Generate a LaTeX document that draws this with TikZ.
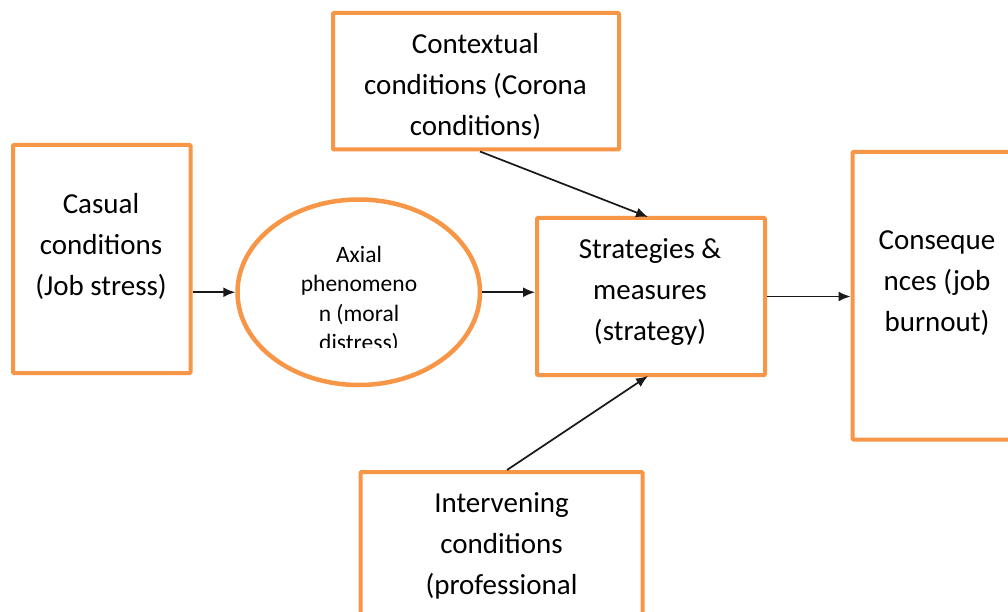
\documentclass[tikz,border=0pt]{standalone}
\usepackage{fontspec}
\setmainfont{Carlito}
\usetikzlibrary{arrows.meta,calc,shapes.geometric}
\definecolor{boxorange}{RGB}{247,150,70}
\tikzset{
  box/.style={draw=boxorange,line width=4pt,rectangle,rounded corners=1pt,inner sep=0pt,fill=white},
  oval/.style={draw=boxorange,line width=4.5pt,ellipse,inner sep=0pt},
  txt/.style={align=center,inner sep=0pt,font=\fontsize{29}{41}\selectfont},
  smalltxt/.style={align=center,inner sep=0pt,font=\fontsize{23.5}{29.5}\selectfont},
  arr/.style={draw=black!90,line width=1.7pt,-{Latex[length=12pt,width=10pt]}}
}
\begin{document}
\begin{tikzpicture}[x=1pt,y=-1pt]
\useasboundingbox (0,0) rectangle (1008,612);
\clip (0,0) rectangle (1008,612);
\fill[white] (0,0) rectangle (1008,612);
% boxes
\node[box,minimum width=177.5pt,minimum height=228pt] (casual) at (101.75,259) {};
\node[box,minimum width=286pt,minimum height=136.5pt] (ctx) at (476,81.25) {};
\node[box,minimum width=228pt,minimum height=157pt] (strat) at (651,296.5) {};
\node[box,minimum width=170pt,minimum height=287.5pt] (cons) at (937.5,295.75) {};
\node[box,minimum width=282pt,minimum height=200pt] (inter) at (501.5,572) {};
\node[oval,minimum width=242.5pt,minimum height=185.5pt] (ax) at (358.75,292.25) {};
% texts
\node[txt] (casualtxt) at (101,246) {Casual\\conditions\\(Job stress)};
\node[txt] (ctxtxt) at (475.5,86) {Contextual\\conditions (Corona\\conditions)};
\node[txt] (strattxt) at (650,292) {Strategies \&\\measures\\(strategy)};
\node[txt] (constxt) at (937,283) {Conseque\\nces (job\\burnout)};
\node[txt] (intertxt) at (501.5,545.5) {Intervening\\conditions\\(professional};
\begin{scope}
\clip (240,200) rectangle (480,347);
\node[smalltxt] (axtxt) at (359,300) {Axial\\phenomeno\\n (moral\\distress)};
\end{scope}
% connectors
\draw[arr] (casual.east |- ax.west) -- (ax.west);
\draw[arr] (ax.east) -- (ax.east -| strat.west);
\draw[arr] (strat.east) -- (strat.east -| cons.west);
\draw[arr] ([xshift=4pt]ctx.south) -- ([xshift=-3pt,yshift=-1pt]strat.north);
\draw[arr] ([xshift=5.5pt]inter.north) -- ([xshift=-3pt,yshift=1pt]strat.south);
\end{tikzpicture}
\end{document}
